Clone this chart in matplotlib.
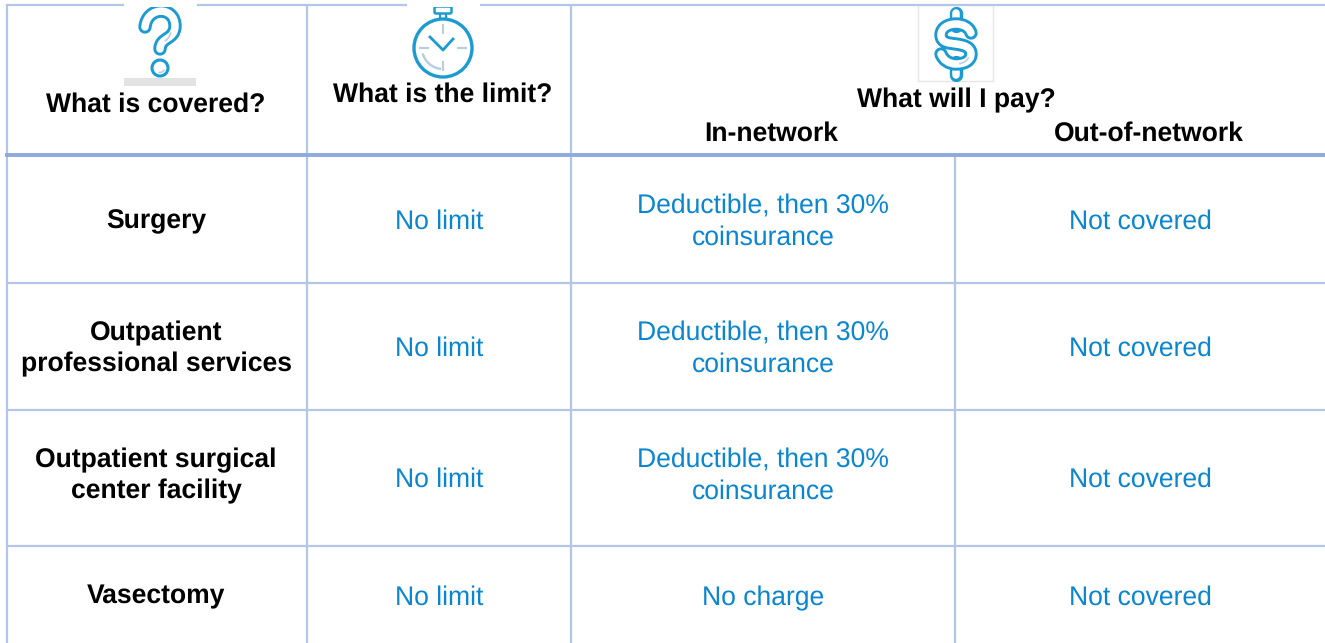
import matplotlib.pyplot as plt
from matplotlib.patches import Circle, Rectangle, FancyBboxPatch, Arc, PathPatch
from matplotlib.path import Path

plt.rcParams["font.family"] = ["Liberation Sans", "DejaVu Sans"]
plt.rcParams["text.hinting"] = "no_hinting"

LINE = "#b4c6e7"
HEAVY = "#8eaadb"
BLUE = "#0a86d0"
ICON = "#1b9bd1"
PALE = "#b9cfe0"
FS = 19.1

headers = ["What is covered?", "What is the limit?", "What will I pay?"]
sub_headers = ["In-network", "Out-of-network"]
services = ["Surgery", "Outpatient\nprofessional services",
            "Outpatient surgical\ncenter facility", "Vasectomy"]
limits = ["No limit", "No limit", "No limit", "No limit"]
in_network = ["Deductible, then 30%\ncoinsurance", "Deductible, then 30%\ncoinsurance",
              "Deductible, then 30%\ncoinsurance", "No charge"]
out_network = ["Not covered", "Not covered", "Not covered", "Not covered"]

service_y = [221, 349, 476, 596]
value_y = [222, 349, 480, 598]
in_network_y = [222, 349, 476, 598]
row_lines = [283, 410, 546]


def tube(ax, verts, codes):
    # blue outline with a white core, like the hollow icon strokes
    path = Path(verts, codes)
    ax.add_patch(PathPatch(path, fc="none", ec=ICON, lw=9.6, capstyle="round", joinstyle="round"))
    ax.add_patch(PathPatch(path, fc="none", ec="white", lw=5.4, capstyle="round", joinstyle="round"))


def draw_question(ax):
    verts = [(145, 27), (147, 6), (175, 6), (175, 26), (175, 40), (160, 37), (160, 49)]
    codes = [Path.MOVETO] + [Path.CURVE4] * 6
    tube(ax, verts, codes)
    ax.add_patch(Circle((160, 68), 8, fc="white", ec=ICON, lw=2.2))
    ax.add_patch(Arc((160, 68), 9, 9, theta1=20, theta2=110, color=PALE, lw=1.2))
    ax.add_patch(Arc((158, 30), 26, 26, theta1=10, theta2=60, color=PALE, lw=1.2))


def draw_dollar(ax):
    tube(ax, [(956, 13), (956, 26)], [Path.MOVETO, Path.LINETO])
    tube(ax, [(956, 62), (956, 75)], [Path.MOVETO, Path.LINETO])
    verts = [(971, 33), (969, 27), (963, 24), (956, 24),
             (948, 24), (941, 28), (941, 35),
             (941, 43), (949, 43), (956, 44),
             (964, 45), (971, 47), (971, 54),
             (971, 61), (964, 64), (956, 64),
             (949, 64), (943, 60), (941, 54)]
    codes = [Path.MOVETO] + [Path.CURVE4] * 18
    tube(ax, verts, codes)
    ax.add_patch(Arc((956, 55), 26, 18, theta1=10, theta2=70, color=PALE, lw=1.2))


def draw_stopwatch(ax, cx, cy, r):
    ax.add_patch(Circle((cx, cy), r, fc="white", ec=ICON, lw=2.4))
    ax.add_patch(FancyBboxPatch((cx - 7, 8), 14, 4, boxstyle="round,pad=1.5",
                                fc="white", ec=ICON, lw=1.8))
    ax.plot([cx - 3, cx - 3], [14, 18], color=ICON, lw=1.5)
    ax.plot([cx + 3, cx + 3], [14, 18], color=ICON, lw=1.5)
    ax.plot([cx - 13, cx, cx + 10], [37, 50, 39], color=ICON, lw=2)
    ax.plot([cx, cx], [25, 33], color=PALE, lw=1.5)
    ax.plot([cx, cx], [62, 70], color=PALE, lw=1.5)
    ax.plot([cx - 23, cx - 15], [48, 48], color=PALE, lw=1.5)
    ax.plot([cx + 15, cx + 23], [48, 48], color=PALE, lw=1.5)
    ax.add_patch(Arc((cx, cy), 42, 42, theta1=95, theta2=165, color=PALE, lw=1.8))


fig = plt.figure(figsize=(13.25, 6.43), dpi=100)
ax = fig.add_axes([0, 0, 1, 1])
ax.set_xlim(0, 1325)
ax.set_ylim(643, 0)
ax.axis("off")

# grid
ax.plot([7, 1325], [5, 5], color=LINE, lw=1.6)
ax.plot([7, 7], [5, 643], color=LINE, lw=1.6)
ax.plot([307, 307], [5, 643], color=LINE, lw=1.6)
ax.plot([571, 571], [5, 643], color=LINE, lw=1.6)
ax.plot([955, 955], [155, 643], color=LINE, lw=1.6)
ax.plot([7, 1325], [155, 155], color=HEAVY, lw=2.8)
for y in row_lines:
    ax.plot([7, 1325], [y, y], color=LINE, lw=1.6)

# icons, white patches break the top rule like the pasted images do
ax.add_patch(Rectangle((124, 3), 73, 4, fc="white", ec="none", zorder=3))
ax.add_patch(Rectangle((407, 3), 73, 4, fc="white", ec="none", zorder=3))
ax.add_patch(Rectangle((124, 78), 72, 8, fc="#e3e3e3", ec="none"))
draw_question(ax)
draw_stopwatch(ax, 443, 48, 29)
ax.add_patch(Rectangle((918, 5), 75, 76, fc="white", ec="#e6e6e6", lw=1))
draw_dollar(ax)

# header text
ax.text(156, 105, headers[0], fontsize=FS, fontweight="bold", ha="center", va="center")
ax.text(443, 95, headers[1], fontsize=FS, fontweight="bold", ha="center", va="center")
ax.text(956, 100, headers[2], fontsize=FS, fontweight="bold", ha="center", va="center")
ax.text(771, 134, sub_headers[0], fontsize=FS, fontweight="bold", ha="center", va="center")
ax.text(1149, 134, sub_headers[1], fontsize=FS, fontweight="bold", ha="center", va="center")

# rows
for i in range(len(services)):
    ax.text(156, service_y[i], services[i], fontsize=FS, fontweight="bold",
            ha="center", va="center", linespacing=1.31)
    ax.text(439, value_y[i], limits[i], fontsize=FS, color=BLUE, ha="center", va="center")
    ax.text(763, in_network_y[i], in_network[i], fontsize=FS, color=BLUE,
            ha="center", va="center", linespacing=1.29)
    ax.text(1140, value_y[i], out_network[i], fontsize=FS, color=BLUE, ha="center", va="center")

fig.savefig("out.png", dpi=100)
